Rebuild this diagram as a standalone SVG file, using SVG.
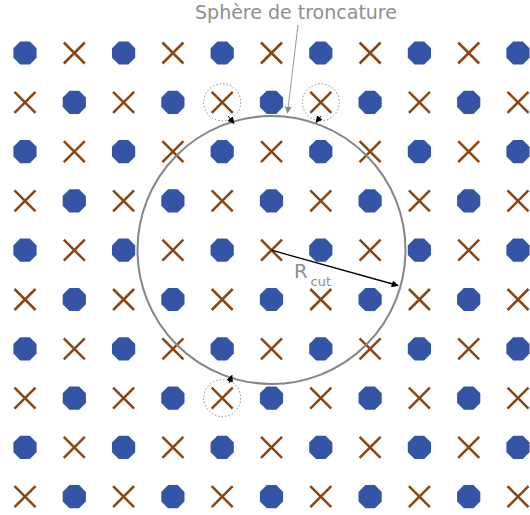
<svg xmlns="http://www.w3.org/2000/svg" xmlns:xlink="http://www.w3.org/1999/xlink" width="530" height="515" viewBox="0 0 530 515">
<style>
.dot{fill:#3454a6}
.x{stroke:#8b4513;stroke-width:2.5;fill:none}
.sphere{fill:none;stroke:#858585;stroke-width:2}
.dotted{fill:none;stroke:#8a8a8a;stroke-width:1;stroke-dasharray:1.5,2}
.lbl{font-family:"DejaVu Sans",sans-serif;fill:#8e8e8e}
</style>
<defs>
<polygon id="d" class="dot" points="4.8,-11.6 11.6,-4.8 11.6,4.8 4.8,11.6 -4.8,11.6 -11.6,4.8 -11.6,-4.8 -4.8,-11.6"/>
<path id="xx" class="x" d="M-10.5,-10.5L10.5,10.5M-10.5,10.5L10.5,-10.5"/>
<marker id="ab" viewBox="0 0 10 10" refX="9" refY="5" markerWidth="7" markerHeight="7" markerUnits="userSpaceOnUse" orient="auto"><path d="M0,0L10,5L0,10z" fill="#000"/></marker>
<marker id="ag" viewBox="0 0 10 10" refX="9" refY="5" markerWidth="7" markerHeight="7" markerUnits="userSpaceOnUse" orient="auto"><path d="M0,0L10,5L0,10z" fill="#8a8a8a"/></marker>
</defs>
<g id="grid">
<g id="row0"><use href="#d" x="25" y="53"/><use href="#xx" x="74.3" y="53"/><use href="#d" x="123.6" y="53"/><use href="#xx" x="172.9" y="53"/><use href="#d" x="222.2" y="53"/><use href="#xx" x="271.5" y="53"/><use href="#d" x="320.8" y="53"/><use href="#xx" x="370.1" y="53"/><use href="#d" x="419.4" y="53"/><use href="#xx" x="468.7" y="53"/><use href="#d" x="518" y="53"/></g>
<g id="row1"><use href="#xx" x="25" y="102.3"/><use href="#d" x="74.3" y="102.3"/><use href="#xx" x="123.6" y="102.3"/><use href="#d" x="172.9" y="102.3"/><use href="#xx" x="222.2" y="102.3"/><use href="#d" x="271.5" y="102.3"/><use href="#xx" x="320.8" y="102.3"/><use href="#d" x="370.1" y="102.3"/><use href="#xx" x="419.4" y="102.3"/><use href="#d" x="468.7" y="102.3"/><use href="#xx" x="518" y="102.3"/></g>
<g id="row2"><use href="#d" x="25" y="151.6"/><use href="#xx" x="74.3" y="151.6"/><use href="#d" x="123.6" y="151.6"/><use href="#xx" x="172.9" y="151.6"/><use href="#d" x="222.2" y="151.6"/><use href="#xx" x="271.5" y="151.6"/><use href="#d" x="320.8" y="151.6"/><use href="#xx" x="370.1" y="151.6"/><use href="#d" x="419.4" y="151.6"/><use href="#xx" x="468.7" y="151.6"/><use href="#d" x="518" y="151.6"/></g>
<g id="row3"><use href="#xx" x="25" y="200.9"/><use href="#d" x="74.3" y="200.9"/><use href="#xx" x="123.6" y="200.9"/><use href="#d" x="172.9" y="200.9"/><use href="#xx" x="222.2" y="200.9"/><use href="#d" x="271.5" y="200.9"/><use href="#xx" x="320.8" y="200.9"/><use href="#d" x="370.1" y="200.9"/><use href="#xx" x="419.4" y="200.9"/><use href="#d" x="468.7" y="200.9"/><use href="#xx" x="518" y="200.9"/></g>
<g id="row4"><use href="#d" x="25" y="250.2"/><use href="#xx" x="74.3" y="250.2"/><use href="#d" x="123.6" y="250.2"/><use href="#xx" x="172.9" y="250.2"/><use href="#d" x="222.2" y="250.2"/><use href="#xx" x="271.5" y="250.2"/><use href="#d" x="320.8" y="250.2"/><use href="#xx" x="370.1" y="250.2"/><use href="#d" x="419.4" y="250.2"/><use href="#xx" x="468.7" y="250.2"/><use href="#d" x="518" y="250.2"/></g>
<g id="row5"><use href="#xx" x="25" y="299.5"/><use href="#d" x="74.3" y="299.5"/><use href="#xx" x="123.6" y="299.5"/><use href="#d" x="172.9" y="299.5"/><use href="#xx" x="222.2" y="299.5"/><use href="#d" x="271.5" y="299.5"/><use href="#xx" x="320.8" y="299.5"/><use href="#d" x="370.1" y="299.5"/><use href="#xx" x="419.4" y="299.5"/><use href="#d" x="468.7" y="299.5"/><use href="#xx" x="518" y="299.5"/></g>
<g id="row6"><use href="#d" x="25" y="348.8"/><use href="#xx" x="74.3" y="348.8"/><use href="#d" x="123.6" y="348.8"/><use href="#xx" x="172.9" y="348.8"/><use href="#d" x="222.2" y="348.8"/><use href="#xx" x="271.5" y="348.8"/><use href="#d" x="320.8" y="348.8"/><use href="#xx" x="370.1" y="348.8"/><use href="#d" x="419.4" y="348.8"/><use href="#xx" x="468.7" y="348.8"/><use href="#d" x="518" y="348.8"/></g>
<g id="row7"><use href="#xx" x="25" y="398.1"/><use href="#d" x="74.3" y="398.1"/><use href="#xx" x="123.6" y="398.1"/><use href="#d" x="172.9" y="398.1"/><use href="#xx" x="222.2" y="398.1"/><use href="#d" x="271.5" y="398.1"/><use href="#xx" x="320.8" y="398.1"/><use href="#d" x="370.1" y="398.1"/><use href="#xx" x="419.4" y="398.1"/><use href="#d" x="468.7" y="398.1"/><use href="#xx" x="518" y="398.1"/></g>
<g id="row8"><use href="#d" x="25" y="447.4"/><use href="#xx" x="74.3" y="447.4"/><use href="#d" x="123.6" y="447.4"/><use href="#xx" x="172.9" y="447.4"/><use href="#d" x="222.2" y="447.4"/><use href="#xx" x="271.5" y="447.4"/><use href="#d" x="320.8" y="447.4"/><use href="#xx" x="370.1" y="447.4"/><use href="#d" x="419.4" y="447.4"/><use href="#xx" x="468.7" y="447.4"/><use href="#d" x="518" y="447.4"/></g>
<g id="row9"><use href="#xx" x="25" y="496.7"/><use href="#d" x="74.3" y="496.7"/><use href="#xx" x="123.6" y="496.7"/><use href="#d" x="172.9" y="496.7"/><use href="#xx" x="222.2" y="496.7"/><use href="#d" x="271.5" y="496.7"/><use href="#xx" x="320.8" y="496.7"/><use href="#d" x="370.1" y="496.7"/><use href="#xx" x="419.4" y="496.7"/><use href="#d" x="468.7" y="496.7"/><use href="#xx" x="518" y="496.7"/></g>
</g>
<g id="sphere"><circle class="sphere" cx="271.5" cy="250" r="134"/></g>
<g id="marks">
<circle class="dotted" cx="222.2" cy="102.3" r="18.5"/>
<circle class="dotted" cx="320.8" cy="102.3" r="18.5"/>
<circle class="dotted" cx="222.2" cy="398.1" r="18.5"/>
</g>
<g id="connectors">
<line x1="228" y1="116" x2="234" y2="123.5" stroke="#000" stroke-width="1" marker-end="url(#ab)"/>
<line x1="321" y1="116" x2="316" y2="122.5" stroke="#000" stroke-width="1" marker-end="url(#ab)"/>
<line x1="229" y1="383" x2="232" y2="375.5" stroke="#000" stroke-width="1" marker-end="url(#ab)"/>
<line x1="271.5" y1="250.2" x2="398" y2="285.5" stroke="#000" stroke-width="1.3" marker-end="url(#ab)"/>
<line x1="298" y1="25" x2="287.5" y2="113" stroke="#999" stroke-width="1" marker-end="url(#ag)"/>
</g>
<g id="labels">
<text class="lbl" x="296" y="18.5" font-size="19" text-anchor="middle">Sphère de troncature</text>
<text class="lbl" x="294" y="278" font-size="19.5">R<tspan font-size="13" x="310.5" dy="8">cut</tspan></text>
</g>
</svg>
